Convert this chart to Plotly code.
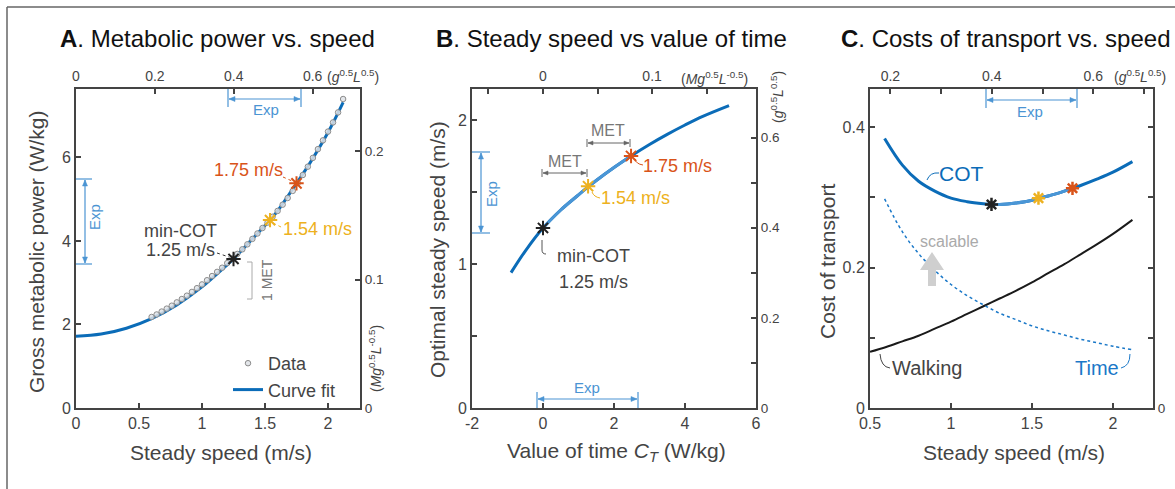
import plotly.graph_objects as go

W, H = 1175, 489
FONT = "Liberation Sans, Arial, Helvetica, sans-serif"
AX = "#444444"
TXT = "#444444"
BLUE = "#0b6cb8"
LBLUE = "#4a96d6"
EXP = "#4b94d3"
ORANGE = "#d95319"
YELLOW = "#edb120"
BLACK = "#222222"
GRAY = "#777777"

# ---------------- Panel A: metabolic power vs speed ----------------
a_fit_speed = [0, 0.2, 0.4, 0.6, 0.8, 1.0, 1.2, 1.25, 1.4, 1.54, 1.6, 1.75, 1.8, 2.0, 2.12]
a_fit_power = [1.72, 1.77, 1.91, 2.14, 2.47, 2.90, 3.43, 3.57, 4.05, 4.50, 4.72, 5.38, 5.60, 6.60, 7.32]

a_data_speed = [0.60, 0.64, 0.68, 0.72, 0.76, 0.80, 0.84, 0.88, 0.92, 0.96, 1.00, 1.04, 1.08,
                1.12, 1.16, 1.20, 1.24, 1.28, 1.32, 1.36, 1.40, 1.44, 1.48, 1.52, 1.56, 1.60,
                1.64, 1.68, 1.72, 1.76, 1.80, 1.84, 1.88, 1.92, 1.96, 2.00, 2.04, 2.08, 2.12]
a_data_power = [2.18, 2.24, 2.31, 2.38, 2.45, 2.53, 2.61, 2.69, 2.78, 2.87, 2.96, 3.06, 3.16,
                3.26, 3.36, 3.47, 3.58, 3.69, 3.80, 3.92, 4.05, 4.18, 4.31, 4.44, 4.58, 4.72,
                4.87, 5.03, 5.20, 5.39, 5.58, 5.78, 5.99, 6.20, 6.41, 6.62, 6.84, 7.08, 7.40]

star_speed = [1.25, 1.54, 1.75]
star_colors = [BLACK, YELLOW, ORANGE]
a_star_power = [3.57, 4.50, 5.38]

# ---------------- Panel B: optimal speed vs value of time ----------------
b_ct = [-0.9, -0.5, 0, 0.5, 1.0, 1.27, 1.5, 2.0, 2.48, 3.0, 3.5, 4.0, 4.5, 5.24]
b_speed = [0.94, 1.09, 1.25, 1.375, 1.48, 1.535, 1.58, 1.67, 1.75, 1.83, 1.90, 1.965, 2.025, 2.10]
b_star_ct = [0, 1.27, 2.48]
b_star_speed = [1.25, 1.54, 1.75]

# ---------------- Panel C: costs of transport ----------------
c_speed = [0.59, 0.7, 0.8, 0.9, 1.0, 1.1, 1.2, 1.25, 1.3, 1.4, 1.5, 1.54, 1.6, 1.7, 1.75,
           1.8, 1.9, 2.0, 2.12]
c_cot = [0.384, 0.346, 0.323, 0.309, 0.299, 0.294, 0.291, 0.290, 0.290, 0.292, 0.296, 0.299,
         0.302, 0.309, 0.313, 0.317, 0.326, 0.336, 0.351]
walk_speed = [0.5, 0.6, 0.7, 0.8, 0.9, 1.0, 1.1, 1.2, 1.3, 1.4, 1.5, 1.6, 1.7, 1.8, 1.9, 2.0, 2.12]
walk_cot = [0.080, 0.087, 0.095, 0.103, 0.113, 0.123, 0.134, 0.145, 0.156, 0.167, 0.179,
            0.192, 0.205, 0.219, 0.233, 0.248, 0.268]
time_speed = [0.59, 0.7, 0.8, 0.9, 1.0, 1.1, 1.2, 1.3, 1.4, 1.5, 1.6, 1.7, 1.8, 1.9, 2.0, 2.12]
time_cot = [0.298, 0.251, 0.220, 0.196, 0.176, 0.160, 0.147, 0.135, 0.126, 0.117, 0.110,
            0.104, 0.098, 0.093, 0.088, 0.083]
c_star_cot = [0.290, 0.299, 0.313]

SQRT_GL = 3.13     # m/s per unit of g^0.5 L^0.5
P_SCALE = 30.73    # W/kg per unit of g^1.5 L^0.5

# ---------------- helpers ----------------
def X(px):
    return px / W

def Y(py):
    return 1 - py / H

dA = [X(76), X(360)]
dB = [X(472), X(756)]
dC = [X(870), X(1153)]
dY = [Y(408), Y(89)]

def ax(minor_vals=None, **kw):
    d = dict(showline=True, linecolor=AX, linewidth=2, ticks="inside", ticklen=5,
             tickwidth=1.5, tickcolor=AX, showgrid=False, zeroline=False, automargin=False,
             tickfont=dict(size=16, color=TXT, family=FONT), fixedrange=True)
    if minor_vals:
        d["minor"] = dict(tickvals=minor_vals, ticks="inside", ticklen=5, tickwidth=1.5,
                          tickcolor=AX, showgrid=False)
    d.update(kw)
    return d

top_font = dict(size=14, color=TXT, family=FONT)
right_font = dict(size=13.5, color=TXT, family=FONT)

fig = go.Figure()

# Panel A traces
fig.add_trace(go.Scatter(x=a_fit_speed, y=a_fit_power, mode="lines", name="Curve fit",
                         line=dict(color=BLUE, width=3, shape="spline"),
                         xaxis="x", yaxis="y", legendrank=2, hoverinfo="skip"))
fig.add_trace(go.Scatter(x=a_data_speed, y=a_data_power, mode="markers", name="Data",
                         marker=dict(symbol="circle", size=5.5, color="rgba(222,226,230,0.85)",
                                     line=dict(color="#8c8c8c", width=1)),
                         xaxis="x", yaxis="y", legendrank=1, hoverinfo="skip"))
fig.add_trace(go.Scatter(x=star_speed, y=a_star_power, mode="markers", showlegend=False,
                         marker=dict(symbol="asterisk-open", size=12, color=star_colors,
                                     line=dict(color=star_colors, width=2)),
                         xaxis="x", yaxis="y", hoverinfo="skip"))
fig.add_trace(go.Scatter(x=[], y=[], xaxis="x2", yaxis="y2", showlegend=False))

# Panel B traces
fig.add_trace(go.Scatter(x=b_ct, y=b_speed, mode="lines", showlegend=False,
                         line=dict(color=BLUE, width=3, shape="spline"),
                         xaxis="x3", yaxis="y3", hoverinfo="skip"))
fig.add_trace(go.Scatter(x=b_ct[2:9], y=b_speed[2:9], mode="lines", showlegend=False,
                         line=dict(color=LBLUE, width=3, shape="spline"),
                         xaxis="x3", yaxis="y3", hoverinfo="skip"))
fig.add_trace(go.Scatter(x=b_star_ct, y=b_star_speed, mode="markers", showlegend=False,
                         marker=dict(symbol="asterisk-open", size=12, color=star_colors,
                                     line=dict(color=star_colors, width=2)),
                         xaxis="x3", yaxis="y3", hoverinfo="skip"))
fig.add_trace(go.Scatter(x=[], y=[], xaxis="x4", yaxis="y4", showlegend=False))

# Panel C traces
fig.add_trace(go.Scatter(x=walk_speed, y=walk_cot, mode="lines", showlegend=False,
                         line=dict(color="#1a1a1a", width=2, shape="spline"),
                         xaxis="x5", yaxis="y5", hoverinfo="skip"))
fig.add_trace(go.Scatter(x=time_speed, y=time_cot, mode="lines", showlegend=False,
                         line=dict(color="#1a78c8", width=1.5, dash="dot", shape="spline"),
                         xaxis="x5", yaxis="y5", hoverinfo="skip"))
fig.add_trace(go.Scatter(x=c_speed, y=c_cot, mode="lines", showlegend=False,
                         line=dict(color=BLUE, width=3, shape="spline"),
                         xaxis="x5", yaxis="y5", hoverinfo="skip"))
fig.add_trace(go.Scatter(x=c_speed[7:15], y=c_cot[7:15], mode="lines", showlegend=False,
                         line=dict(color=LBLUE, width=3, shape="spline"),
                         xaxis="x5", yaxis="y5", hoverinfo="skip"))
fig.add_trace(go.Scatter(x=star_speed, y=c_star_cot, mode="markers", showlegend=False,
                         marker=dict(symbol="asterisk-open", size=11, color=star_colors,
                                     line=dict(color=star_colors, width=2.5)),
                         xaxis="x5", yaxis="y5", hoverinfo="skip"))
fig.add_trace(go.Scatter(x=[], y=[], xaxis="x6", yaxis="y6", showlegend=False))

# ---------------- axes ----------------
a_xr = [0, 2.254]
a_yr = [0, 7.64]
b_xr = [-2, 6]
b_yr = [0, 2.215]
c_xr = [0.5, 2.247]
c_yr = [0, 0.4545]

fig.update_layout(
    xaxis=ax(domain=dA, range=a_xr, anchor="y", tickvals=[0, 0.5, 1, 1.5, 2],
             ticktext=["0", "0.5", "1", "1.5", "2"]),
    yaxis=ax(domain=dY, range=a_yr, anchor="x", tickvals=[0, 2, 4, 6],
             ticktext=["0", "2", "4", "6"]),
    xaxis2=ax(domain=dA, range=[a_xr[0] / SQRT_GL, a_xr[1] / SQRT_GL], overlaying="x",
              side="top", anchor="y", tickvals=[0, 0.2, 0.4, 0.6],
              ticktext=["0", "0.2", "0.4", "0.6"], tickfont=top_font),
    yaxis2=ax(domain=dY, range=[a_yr[0] / P_SCALE, a_yr[1] / P_SCALE], overlaying="y",
              side="right", anchor="x", tickvals=[0, 0.1, 0.2],
              ticktext=["0", "0.1", "0.2"], tickfont=right_font),

    xaxis3=ax(domain=dB, range=b_xr, anchor="y3", tickvals=[-2, 0, 2, 4, 6],
              ticktext=["-2", "0", "2", "4", "6"]),
    yaxis3=ax(domain=dY, range=b_yr, anchor="x3", tickvals=[0, 1, 2],
              ticktext=["0", "1", "2"], minor_vals=[0.5, 1.5]),
    xaxis4=ax(domain=dB, range=[b_xr[0] / P_SCALE, b_xr[1] / P_SCALE], overlaying="x3",
              side="top", anchor="y3", tickvals=[0, 0.1], ticktext=["0", "0.1"],
              minor_vals=[-0.05, 0.05, 0.15], tickfont=top_font),
    yaxis4=ax(domain=dY, range=[b_yr[0] / SQRT_GL, b_yr[1] / SQRT_GL], overlaying="y3",
              side="right", anchor="x3", tickvals=[0, 0.2, 0.4, 0.6],
              ticktext=["0", "0.2", "0.4", "0.6"], minor_vals=[0.1, 0.3, 0.5],
              tickfont=right_font),

    xaxis5=ax(domain=dC, range=c_xr, anchor="y5", tickvals=[0.5, 1, 1.5, 2],
              ticktext=["0.5", "1", "1.5", "2"]),
    yaxis5=ax(domain=dY, range=c_yr, anchor="x5", tickvals=[0, 0.2, 0.4],
              ticktext=["0", "0.2", "0.4"], minor_vals=[0.1, 0.3]),
    xaxis6=ax(domain=dC, range=[c_xr[0] / SQRT_GL, c_xr[1] / SQRT_GL], overlaying="x5",
              side="top", anchor="y5", tickvals=[0.2, 0.4, 0.6],
              ticktext=["0.2", "0.4", "0.6"], minor_vals=[0.3, 0.5, 0.7], tickfont=top_font),
    yaxis6=ax(domain=dY, range=c_yr, overlaying="y5", side="right", anchor="x5",
              tickvals=[0], ticktext=["0"], minor_vals=[0.1, 0.2, 0.3, 0.4],
              tickfont=right_font),
)

# ---------------- annotations & shapes ----------------
anns = []
shapes = []

def text(t, px, py, size=18, color=TXT, angle=0, xanchor="center"):
    anns.append(dict(text=t, x=X(px), y=Y(py), xref="paper", yref="paper", showarrow=False,
                     font=dict(size=size, color=color, family=FONT), textangle=angle,
                     xanchor=xanchor, yanchor="middle"))

def line(x1, y1, x2, y2, color, width=1.2, dash=None):
    d = dict(type="line", xref="paper", yref="paper", x0=X(x1), y0=Y(y1), x1=X(x2), y1=Y(y2),
             line=dict(color=color, width=width), layer="above")
    if dash:
        d["line"]["dash"] = dash
    shapes.append(d)

def path(cmds, color, width=1.0, fill=None):
    s = ""
    for c in cmds:
        if isinstance(c, str):
            s += c + " "
        else:
            s += "%.5f,%.5f " % (X(c[0]), Y(c[1]))
    d = dict(type="path", xref="paper", yref="paper", path=s.strip(),
             line=dict(color=color, width=width), layer="above")
    if fill:
        d["fillcolor"] = fill
    shapes.append(d)

def head(tx, ty, dx, dy, color, length=6, half=2.5):
    n = (dx * dx + dy * dy) ** 0.5
    ux, uy = dx / n, dy / n
    bx, by = tx - ux * length, ty - uy * length
    px_, py_ = -uy * half, ux * half
    path(["M", (tx, ty), "L", (bx + px_, by + py_), "L", (bx - px_, by - py_), "Z"],
         color, 0.5, fill=color)

def darrow(x1, y1, x2, y2, color, width=1.2, length=6, half=2.5):
    line(x1, y1, x2, y2, color, width)
    head(x2, y2, x2 - x1, y2 - y1, color, length, half)
    head(x1, y1, x1 - x2, y1 - y2, color, length, half)

# Titles
text("<b>A</b>. Metabolic power vs. speed", 217, 38, size=24, color="#111111")
text("<b>B</b>. Steady speed vs value of time", 611, 38, size=24, color="#111111")
text("<b>C</b>. Costs of transport vs. speed", 1006, 38, size=24, color="#111111")

# Axis titles
text("Gross metabolic power (W/kg)", 36, 252, size=21, angle=-90)
text("Steady speed (m/s)", 221, 452, size=21)
text("Optimal steady speed (m/s)", 437, 250, size=21, angle=-90)
text("Value of time <i>C</i><sub><i>T</i></sub> (W/kg)", 616, 452, size=21)
text("Cost of transport", 827, 262, size=21, angle=-90)
text("Steady speed (m/s)", 1014, 452, size=21)

unit_gl = "(<i>g</i><sup>0.5</sup><i>L</i><sup>0.5</sup>)"
unit_mgl = "(<i>Mg</i><sup>0.5</sup><i>L</i><sup>-0.5</sup>)"
text(unit_gl, 353, 76, size=14)
text(unit_mgl, 375, 359, size=14, angle=-90)
text(unit_mgl, 714, 78, size=14)
text(unit_gl, 777, 97, size=14, angle=-90)
text(unit_gl, 1140, 76, size=14)

# Panel A annotations
darrow(229, 99, 300, 99, EXP)
line(228, 89, 228, 107, EXP)
line(301, 89, 301, 107, EXP)
text("Exp", 266, 110, size=15, color=EXP)
darrow(85, 180, 85, 263, EXP)
line(76, 179, 92, 179, EXP)
line(76, 264, 92, 264, EXP)
text("Exp", 95, 217, size=15, color=EXP, angle=-90)

text("1.75 m/s", 248, 170, size=18, color=ORANGE)
line(283, 177, 292, 181, ORANGE, 1, "dot")
text("1.54 m/s", 317, 229, size=18, color=YELLOW)
line(273, 223, 283, 228, YELLOW, 1, "dot")
text("min-COT", 180, 231, size=18)
text("1.25 m/s", 180, 250, size=18)
line(217, 253, 229, 257, "#333333", 1, "dot")

line(252, 262, 252, 299, "#aaaaaa", 1)
line(247, 262, 252, 262, "#aaaaaa", 1)
line(247, 299, 252, 299, "#aaaaaa", 1)
text("1 MET", 267, 280, size=14, color=GRAY, angle=-90)

# Panel B annotations
darrow(481, 153, 481, 232, EXP)
line(472, 152, 490, 152, EXP)
line(472, 233, 490, 233, EXP)
text("Exp", 491, 194, size=15, color=EXP, angle=-90)
darrow(538, 399, 637, 399, EXP)
line(537, 392, 537, 408, EXP)
line(638, 392, 638, 408, EXP)
text("Exp", 587, 387, size=15, color=EXP)

darrow(588, 143, 629, 143, "#666666", 1, 5, 2)
line(587, 139, 587, 147, "#666666", 1)
line(630, 139, 630, 147, "#666666", 1)
text("MET", 608, 131, size=16, color=GRAY)
darrow(543, 173, 586, 173, "#666666", 1, 5, 2)
line(542, 169, 542, 177, "#666666", 1)
line(587, 169, 587, 177, "#666666", 1)
text("MET", 565, 161, size=16, color=GRAY)

text("1.75 m/s", 677, 166, size=18, color=ORANGE)
path(["M", (635, 159), "Q", (636, 164), (643, 165)], ORANGE, 1)
text("1.54 m/s", 635, 198, size=18, color=YELLOW)
path(["M", (592, 192), "Q", (594, 197), (600, 198)], YELLOW, 1)
text("min-COT", 593, 256, size=18)
text("1.25 m/s", 593, 282, size=18)
path(["M", (542, 240), "L", (542, 250), "Q", (542, 254), (546, 254)], "#555555", 1)

# Panel C annotations
darrow(987, 100, 1076, 100, EXP)
line(986, 89, 986, 108, EXP)
line(1077, 89, 1077, 108, EXP)
text("Exp", 1030, 111, size=15, color=EXP)

text("COT", 961, 174, size=21, color=BLUE)
path(["M", (927, 180), "Q", (930, 172), (939, 173)], BLUE, 1)
text("scalable", 949, 242, size=16, color="#aaaaaa")
path(["M", (928, 286), "L", (936, 286), "L", (936, 270), "L", (944, 270), "L", (932, 252),
      "L", (920, 270), "L", (928, 270), "Z"], "rgba(0,0,0,0)", 0, fill="#cfcfcf")
text("Walking", 927, 368, size=20)
path(["M", (880, 354), "Q", (881, 367), (890, 368)], "#444444", 1)
text("Time", 1097, 368, size=20, color="#1a78c8")
path(["M", (1130, 354), "Q", (1130, 366), (1121, 368)], "#1a78c8", 1)

# outer frame (partially visible)
line(7, 7, 1180, 7, "#666666", 1.5)
line(7, 7, 7, 495, "#666666", 1.5)

fig.update_layout(
    width=W, height=H, autosize=False,
    margin=dict(l=0, r=0, t=0, b=0, autoexpand=False),
    paper_bgcolor="white", plot_bgcolor="rgba(0,0,0,0)",
    font=dict(family=FONT, color=TXT),
    annotations=anns, shapes=shapes,
    showlegend=True,
    legend=dict(x=X(228), y=Y(345), xanchor="left", yanchor="top",
                bgcolor="rgba(0,0,0,0)", font=dict(size=18, color=TXT, family=FONT),
                itemwidth=30, tracegroupgap=0),
)

fig.write_html("out.html", config={"displayModeBar": False},
               post_script="document.body.style.margin='0px';document.body.style.overflow='hidden';")
